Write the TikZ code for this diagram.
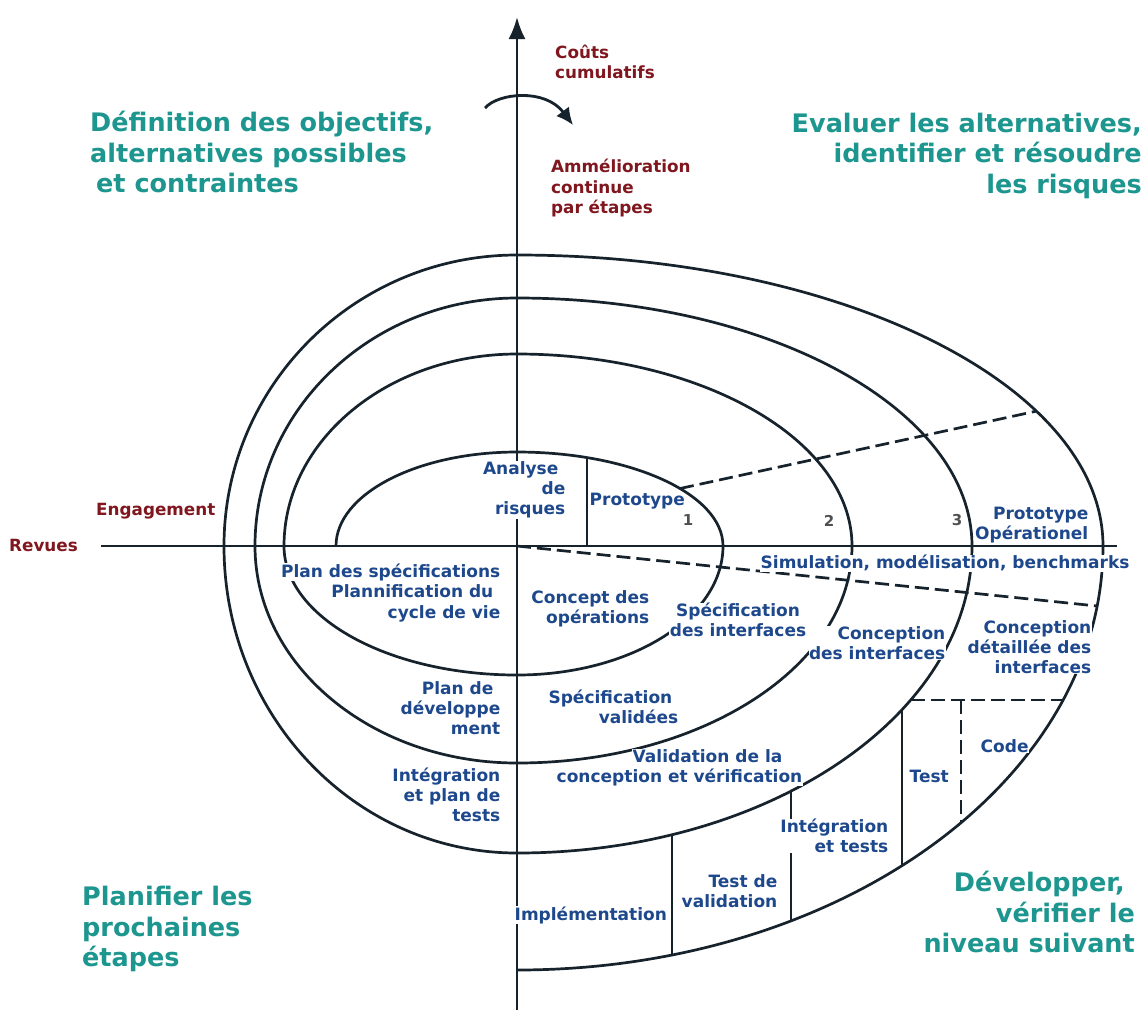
\documentclass[tikz,border=0pt]{standalone}
\usepackage{fontspec}
\setmainfont{DejaVu Sans}
\usetikzlibrary{arrows.meta}
\definecolor{lc}{RGB}{22,34,44}
\definecolor{bluec}{RGB}{30,72,140}
\definecolor{redc}{RGB}{128,22,30}
\definecolor{greenc}{RGB}{28,150,142}
\definecolor{numc}{RGB}{80,80,80}
\tikzset{
  axisline/.style={line width=2.7pt, draw=lc},
  spiralline/.style={line width=2.7pt, draw=lc},
  dashline/.style={line width=2.7pt, draw=lc, dash pattern=on 14pt off 6pt},
  bl/.style={text=bluec, font=\bfseries\fontsize{17}{20}\selectfont, inner sep=0.5pt},
  blf/.style={bl, fill=white},
  rd/.style={text=redc, font=\bfseries\fontsize{16.8}{20.5}\selectfont, inner sep=0pt},
  gr/.style={text=greenc, font=\bfseries\fontsize{25.5}{30.5}\selectfont, inner sep=0pt},
  num/.style={text=numc, font=\bfseries\fontsize{15}{15}\selectfont, inner sep=0pt}
}
\begin{document}
\begin{tikzpicture}[x=1pt,y=1pt]
\useasboundingbox (0,0) rectangle (1146,-1013);
\fill[white] (0,0) rectangle (1146,-1013);
\coordinate (O) at (517,-546);
\coordinate (hL) at (101,-546);
\coordinate (hR) at (1117,-546);
\coordinate (vB) at (517,-1010);
\coordinate (vT) at (517,-17);
% axes
\draw[axisline] (hL) -- (hR);
\draw[axisline,-{Latex[length=22pt,width=17pt]}] (vB) -- (vT);
% spiral
\coordinate (s0) at (336,-546);
\draw[spiralline] (s0)
  arc[start angle=180,end angle=90,x radius=181,y radius=94]
  arc[start angle=90,end angle=0,x radius=206,y radius=94]
  arc[start angle=0,end angle=-90,x radius=206,y radius=129]
  arc[start angle=-90,end angle=-180,x radius=233,y radius=129]
  arc[start angle=180,end angle=90,x radius=233,y radius=192]
  arc[start angle=90,end angle=0,x radius=335,y radius=192]
  arc[start angle=0,end angle=-90,x radius=335,y radius=217]
  arc[start angle=-90,end angle=-180,x radius=262,y radius=217]
  arc[start angle=180,end angle=90,x radius=262,y radius=248]
  arc[start angle=90,end angle=0,x radius=455,y radius=248]
  arc[start angle=0,end angle=-90,x radius=455,y radius=307]
  arc[start angle=-90,end angle=-180,x radius=293,y radius=307]
  arc[start angle=180,end angle=90,x radius=293,y radius=291]
  arc[start angle=90,end angle=0,x radius=586,y radius=291]
  arc[start angle=0,end angle=-90,x radius=586,y radius=424];
% radial and partition lines
\coordinate (p1a) at (587,-457.6); \coordinate (p1b) at (587,-546);
\draw[spiralline] (p1a) -- (p1b);
\coordinate (d1a) at (680,-488.5); \coordinate (d1b) at (1036.5,-411.1);
\draw[dashline] (d1a) -- (d1b);
\coordinate (d2b) at (1097,-606);
\draw[dashline] (O) -- (d2b);
\coordinate (d3a) at (910.6,-700); \coordinate (d3b) at (1063,-700);
\draw[dashline] (d3a) -- (d3b);
\coordinate (c1a) at (961,-700); \coordinate (c1b) at (961,-822.7);
\draw[dashline] (c1a) -- (c1b);
\coordinate (t1a) at (902,-709.6); \coordinate (t1b) at (902,-865.7);
\draw[spiralline] (t1a) -- (t1b);
\coordinate (i1a) at (791,-791); \coordinate (i1b) at (791,-920.8);
\draw[spiralline] (i1a) -- (i1b);
\coordinate (m1a) at (672,-834.6); \coordinate (m1b) at (672,-954.9);
\draw[spiralline] (m1a) -- (m1b);
% curved arrow
\coordinate (ca) at (485,-108); \coordinate (cb) at (573,-125);
\draw[line width=2.8pt, lc, -{Latex[length=17pt,width=16pt]}] (ca) .. controls (498,-93) and (545,-88) .. (cb);
% red labels
\node[rd, anchor=west, align=left] (couts) at (555,-62) {Coûts\\cumulatifs};
\node[rd, anchor=west, align=left] (amel) at (551,-188.5) {Ammélioration\\continue\\par étapes};
\node[rd, anchor=west] (eng) at (96,-511) {Engagement};
\node[rd, anchor=west] (rev) at (9,-545) {Revues};
% green labels
\node[gr, anchor=west, align=left] (q1) at (90,-152) {Définition des objectifs,\\alternatives possibles\\\hspace*{6pt}et contraintes};
\node[gr, anchor=east, align=right] (q2) at (1142,-155.5) {Evaluer les alternatives,\\identifier et résoudre\\les risques};
\node[gr, anchor=west, align=left] (q3) at (82,-929) {Planifier les\\prochaines\\étapes};
\node[gr, anchor=east, align=right] (q4) at (1135,-912) {Développer,\hspace*{10pt}\\vérifier le\hspace*{8pt}\\niveau suivant};
% blue labels
\node[blf, anchor=east, align=right] (ana) at (566,-490) {Analyse\hspace*{7pt}\\de\\risques};
\node[bl, anchor=west] (proto) at (589,-501) {Prototype};
\node[num] (n1) at (688,-520) {1};
\node[num] (n2) at (829,-521) {2};
\node[num] (n3) at (957,-520) {3};
\node[bl, anchor=east, align=right] (protop) at (1089,-525.5) {Prototype\\Opérationel};
\node[blf, anchor=west] (simu) at (760,-563) {Simulation, modélisation, benchmarks};
\node[blf, anchor=base east] (plansp1) at (501,-577) {Plan des spécifications};
\node[blf, anchor=base east] (plansp2) at (501,-597) {Plannification du\hspace*{7pt}};
\node[blf, anchor=base east] (plansp3) at (501,-618) {cycle de vie};
\node[bl, anchor=east, align=right] (concop) at (650,-609) {Concept des\\opérations};
\node[blf, align=center] (specint) at (738,-620) {Spécification\\des interfaces};
\node[blf, anchor=east, align=right] (concint) at (946,-643) {Conception\\des interfaces};
\node[blf, anchor=east, align=right] (concdet) at (1092,-647) {Conception\\détaillée des\\interfaces};
\node[bl, anchor=east, align=right] (plandev) at (501,-708) {Plan de\hspace*{7pt}\\développe\\ment};
\node[bl, anchor=east, align=right] (specval) at (679,-707) {Spécification\hspace*{6pt}\\validées};
\node[blf, anchor=base east] (valid1) at (783,-762) {Validation de la};
\node[blf, anchor=base east] (valid2) at (803,-782) {conception et vérification};
\node[bl, anchor=east, align=right] (intpl) at (501,-795) {Intégration\\et plan de\hspace*{7pt}\\tests};
\node[blf, anchor=west] (code) at (980,-746) {Code};
\node[bl, anchor=west] (test) at (909,-776) {Test};
\node[blf, anchor=east, align=right] (intt) at (889,-836) {Intégration\\et tests};
\node[bl, anchor=east, align=right] (testv) at (778,-891) {Test de\\validation};
\node[blf, anchor=west] (impl) at (514,-915) {Implémentation};
\end{tikzpicture}
\end{document}
